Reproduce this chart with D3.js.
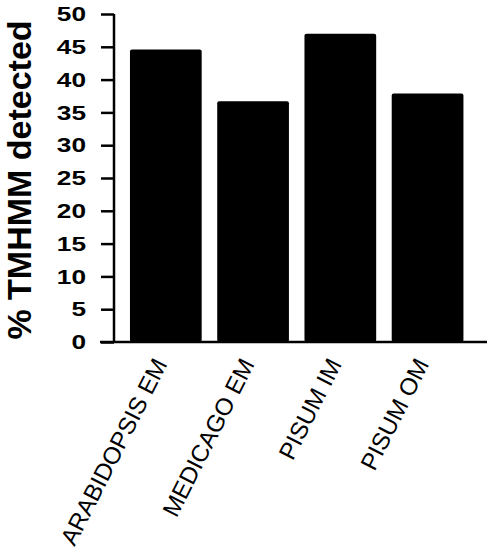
<!DOCTYPE html>
<html>
<head>
<meta charset="utf-8">
<script src="https://cdn.jsdelivr.net/npm/d3@7"></script>
<style>
	body { margin: 0; background: #fff; }
	svg { display: block; }
</style>
</head>
<body>
<script>

var categories = ["ARABIDOPSIS EM", "MEDICAGO EM", "PISUM IM", "PISUM OM"];
var values = [44.6, 36.7, 47.0, 37.9];
var yTicks = [0, 5, 10, 15, 20, 25, 30, 35, 40, 45, 50];
var yTitle = "% TMHMM detected";

window.onload = function WindowLoad(event) {
	Draw_Chart()
}

function Draw_Chart(){

	var width = 490, height = 557;
	var axisX = 114, axisTop = 14, axisBottom = 342;

	var svg = d3.select("body").append("svg")
		.attr("width", width)
		.attr("height", height)

	var x = d3.scaleBand()
		.domain(categories)
		.range([axisX, 479.4])
		.paddingInner(0.178)
		.paddingOuter(0.183)

	var y = d3.scaleLinear()
		.domain([0, 50])
		.range([axisBottom, axisTop])

	//BARS
	svg.selectAll("rect.bar")
		.data(values)
		.enter()
		.append("rect")
		.attr("class", "bar")
		.attr("x", function(d, i){ return x(categories[i]) })
		.attr("y", function(d){ return y(d) })
		.attr("width", x.bandwidth())
		.attr("height", function(d){ return y(0) - y(d) })
		.attr("rx", 2)
		.style("fill", "#000")

	//Y AXIS
	var yAxis = d3.axisLeft(y)
		.tickValues(yTicks)
		.tickSize(13)
		.tickPadding(15)
		.tickFormat(d3.format("d"))

	var gy = svg.append("g")
		.attr("transform", "translate(" + axisX + ",0)")
		.call(yAxis)

	gy.select(".domain")
		.attr("d", "M0," + axisTop + "V" + axisBottom)
		.style("stroke", "#000")
		.style("stroke-width", 2.5)
	gy.selectAll(".tick line")
		.style("stroke", "#000")
		.style("stroke-width", 2.5)
	gy.selectAll(".tick text")
		.attr("x", 0)
		.attr("transform", "translate(-28,0) scale(1.25,1)")
		.style("font-family", "Liberation Sans, Arial, sans-serif")
		.style("font-weight", "bold")
		.style("font-size", "21px")
		.style("fill", "#000")

	//X AXIS LINE
	svg.append("line")
		.attr("x1", axisX - 14)
		.attr("x2", 487)
		.attr("y1", y(0))
		.attr("y2", y(0))
		.style("stroke", "#000")
		.style("stroke-width", 2.5)

	//X LABELS
	svg.selectAll("text.cat")
		.data(categories)
		.enter()
		.append("text")
		.attr("class", "cat")
		.attr("transform", function(d){
			var cx = x(d) + x.bandwidth() / 2 + 2;
			return "translate(" + cx + ",364) rotate(-63)"
		})
		.attr("text-anchor", "end")
		.style("font-family", "Liberation Sans, Arial, sans-serif")
		.style("font-size", "24px")
		.style("fill", "#000")
		.text(function(d){ return d })

	//Y TITLE
	svg.append("text")
		.attr("transform", "translate(31,180) rotate(-90)")
		.attr("text-anchor", "middle")
		.style("font-family", "Liberation Sans, Arial, sans-serif")
		.style("font-weight", "bold")
		.style("font-size", "34px")
		.style("fill", "#000")
		.text(yTitle)
}
</script>
</body>
</html>
